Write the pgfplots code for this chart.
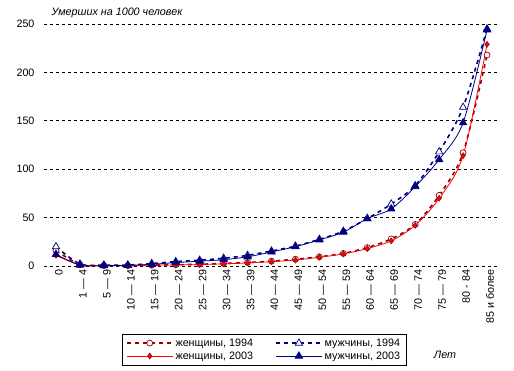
\documentclass[border=0pt]{standalone}
\usepackage{pgfplots}
\pgfplotsset{compat=1.18}
\usepackage{fontspec}
\setmainfont{Liberation Sans}
\definecolor{navyc}{RGB}{0,0,128}
\definecolor{maroonc}{RGB}{150,0,0}
\definecolor{redc}{RGB}{255,0,0}
\newcommand{\ff}{\fontsize{10.8}{12.5}\selectfont}

\begin{document}
\begin{tikzpicture}[font=\ff]
\useasboundingbox (-44bp,-105bp) rectangle (470bp,266bp);
\begin{axis}[
 at={(0,0)}, anchor=south west,
 scale only axis, width=455bp, height=242bp,
 xmin=-0.5, xmax=18.5, ymin=0, ymax=250,
 ytick={0,50,...,250},
 xtick={0,...,18},
 xticklabels={0,1 — 4,5 — 9,10 — 14,15 — 19,20 — 24,25 — 29,30 — 34,35 — 39,40 — 44,45 — 49,50 — 54,55 — 59,60 — 64,65 — 69,70 — 74,75 — 79,80 - 84,85 и более},
 axis line style={draw=none},
 major tick length=0pt,
 ymajorgrids,
 grid style={black, dash pattern=on 3bp off 3bp, line width=0.7bp},
 xticklabel style={rotate=90, anchor=east, yshift=-3bp, font=\ff},
 yticklabel style={xshift=-6bp, font=\ff},
 /pgf/number format/assume math mode=true,
 clip=false,
 legend columns=2,
 legend cell align=left,
 legend style={at={(axis description cs:0.4835,-0.28)}, anchor=north,
   draw=black, line width=0.7bp, font=\ff,
   inner xsep=4bp, inner ysep=2.5bp, row sep=0bp,
   /tikz/every even column/.append style={column sep=20bp}},
 legend image code/.code={\draw[mark repeat=2,mark phase=2] plot coordinates {(0bp,0bp)(23bp,0bp)(46bp,0bp)};},
]
% women 1994
\addplot[smooth, maroonc, line width=1.6bp, dash pattern=on 4bp off 4bp,
  mark=*, mark size=3bp, mark options={solid, draw=maroonc, fill=white, line width=0.7bp}]
 coordinates {(0,16)(1,1.5)(2,0.5)(3,0.4)(4,0.9)(5,1.3)(6,1.8)(7,2.6)(8,3.6)(9,5)(10,7)(11,9.5)(12,13)(13,19)(14,28)(15,43)(16,73)(17,117)(18,218)};
\addlegendentry{женщины, 1994}
% men 1994
\addplot[smooth, navyc, line width=1.6bp, dash pattern=on 4bp off 4bp,
  mark=triangle*, mark size=4.2bp, mark options={solid, draw=navyc, fill=white, line width=0.7bp}]
 coordinates {(0,20)(1,2)(2,1)(3,1)(4,2.5)(5,4.5)(6,6)(7,8)(8,11)(9,15.5)(10,20.5)(11,27.5)(12,36)(13,49)(14,64)(15,83)(16,118)(17,164)(18,245)};
\addlegendentry{мужчины, 1994}
% women 2003
\addplot[smooth, redc, line width=0.8bp,
  mark=diamond*, mark size=3bp, mark options={solid, draw=maroonc, fill=redc, line width=0.5bp}]
 coordinates {(0,11)(1,1)(2,0.3)(3,0.3)(4,0.8)(5,1.1)(6,1.5)(7,2.2)(8,3.2)(9,4.5)(10,6.2)(11,9)(12,12.5)(13,18)(14,26)(15,42)(16,70)(17,114)(18,229)};
\addlegendentry{женщины, 2003}
% men 2003
\addplot[smooth, navyc, line width=0.8bp,
  mark=triangle*, mark size=4.2bp, mark options={solid, draw=navyc, fill=navyc}]
 coordinates {(0,12)(1,1)(2,0.5)(3,0.6)(4,1.8)(5,3.5)(6,5)(7,6.5)(8,9.5)(9,14.5)(10,20)(11,27)(12,35)(13,49)(14,59)(15,82)(16,110)(17,148)(18,244)};
\addlegendentry{мужчины, 2003}
\end{axis}
\node[anchor=west, font=\ff\itshape] at (4bp,253bp) {Умерших на 1000 человек};
\node[font=\ff\itshape] at (401bp,-89bp) {Лет};
\end{tikzpicture}
\end{document}
